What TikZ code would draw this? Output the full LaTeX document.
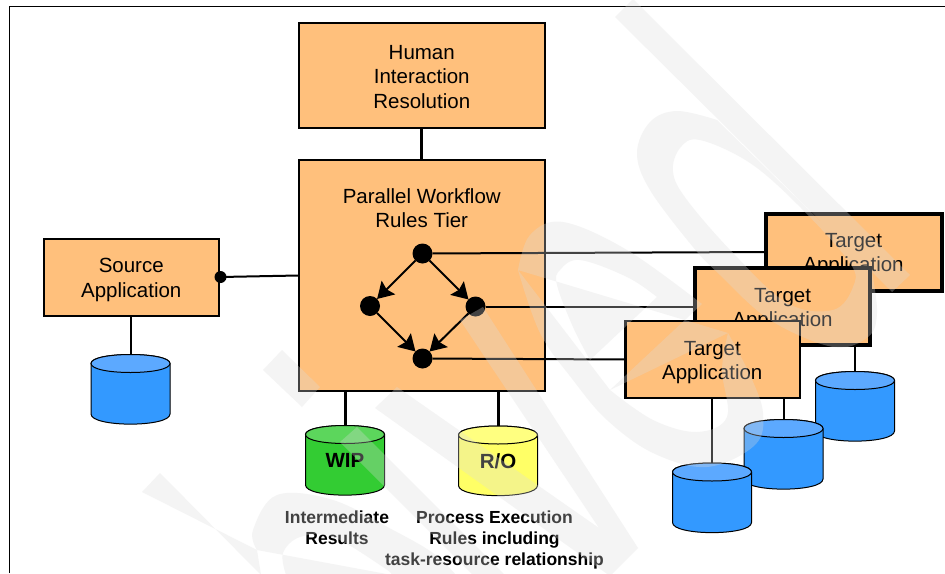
\documentclass[tikz,border=0pt]{standalone}
\usepackage{fontspec}
\setmainfont{Liberation Sans}
\usetikzlibrary{arrows.meta}
\definecolor{boxor}{HTML}{FFC07C}
\definecolor{dbblue}{HTML}{3399FF}
\definecolor{dbbluetop}{HTML}{5CA9FF}
\definecolor{dbgreen}{HTML}{33CC33}
\definecolor{dbgreentop}{HTML}{5CD65C}
\definecolor{dbyellow}{HTML}{FFFF66}
\definecolor{dbyellowtop}{HTML}{FFFF80}
\tikzset{
  x=1pt,y=-1pt,
  boxn/.style={draw=black,fill=boxor,line width=2pt,outer sep=0pt,inner sep=0pt},
  boxthick/.style={boxn,line width=4pt},
  txt/.style={inner sep=0pt,outer sep=0pt,align=center,font=\fontsize{20.5}{24.5}\selectfont},
  lab/.style={inner sep=0pt,outer sep=0pt,align=center,font=\fontsize{17.5}{21}\selectfont\bfseries},
  dbtxt/.style={inner sep=0pt,outer sep=0pt,minimum width=79pt,minimum height=70pt,font=\fontsize{20.5}{24}\selectfont\bfseries},
  dbline/.style={draw=black,line width=1pt},
  dotn/.style={circle,fill=black,inner sep=0pt,outer sep=0pt,minimum size=20pt},
  smalldot/.style={circle,fill=black,inner sep=0pt,outer sep=0pt,minimum size=12pt},
  wire/.style={line width=2pt,draw=black},
  heavy/.style={line width=3pt,draw=black},
  flow/.style={line width=2pt,draw=black,-{Stealth[length=16pt,width=19pt,inset=2.5pt]}},
  wm/.style={fill=black!14,fill opacity=.3,even odd rule},
}
% name, centre x, top y, body colour, top colour, text
\newcommand\dbcyl[6]{%
  \pgfmathsetmacro\cxa{#2-39.5}\pgfmathsetmacro\cxb{#2+39.5}%
  \pgfmathsetmacro\cya{#3+9}\pgfmathsetmacro\cyb{#3+59.5}%
  \pgfmathsetmacro\cyc{#3+73}\pgfmathsetmacro\cyd{#3-3}\pgfmathsetmacro\cye{#3+21}%
  \path[fill=#4,dbline] (\cxa,\cya) -- (\cxa,\cyb) .. controls (\cxa,\cyc) and (\cxb,\cyc) .. (\cxb,\cyb) -- (\cxb,\cya)
     .. controls (\cxb,\cyd) and (\cxa,\cyd) .. (\cxa,\cya) -- cycle;
  \path[fill=#5,dbline] (\cxa,\cya) .. controls (\cxa,\cyd) and (\cxb,\cyd) .. (\cxb,\cya)
     .. controls (\cxb,\cye) and (\cxa,\cye) .. (\cxa,\cya) -- cycle;
  \node[dbtxt] (#1) at (#2,{#3+35}) {\raisebox{-3pt}{#6}};%
}
\begin{document}
\begin{tikzpicture}
\useasboundingbox (0,0) rectangle (945,573);
\fill[white] (0,0) rectangle (945,573);
\draw[line width=1pt] (9.5,573) -- (9.5,6) -- (945,6);

\node[boxn,minimum width=246.5pt,minimum height=105pt] (human) at (421.75,75.5) {};
\node[txt] (humantxt) at (421.75,77) {Human\\Interaction\\Resolution};
\node[boxn,minimum width=246.5pt,minimum height=231pt] (par) at (421.75,275.5) {};
\node[txt] (partxt) at (421.75,208.2) {Parallel Workflow\\Rules Tier};
\node[boxn,minimum width=175.5pt,minimum height=77pt] (src) at (131.25,277.5) {};
\node[txt] (srctxt) at (131.25,279.8) {Source\\Application};
\node[smalldot] (srcdot) at (220.5,277) {};
\node[dotn] (dt) at (422.5,253.5) {};
\node[dotn] (dl) at (370,306) {};
\node[dotn] (dr) at (475.5,306.5) {};
\node[dotn] (db) at (422.5,358.5) {};

\draw[heavy] (human.south) -- (par.north);
\draw[wire] (srcdot.center) -- (par.west);
\draw[flow] (dt) -- (dl);
\draw[flow] (dt) -- (dr);
\draw[flow] (dl) -- (db);
\draw[flow] (dr) -- (db);

\dbcyl{dbs}{130.5}{354.5}{dbblue}{dbbluetop}{}
\draw[wire] (dbs.north|-src.south) -- (dbs.north);

\dbcyl{wip}{345}{425.5}{dbgreen}{dbgreentop}{WIP}
\dbcyl{ro}{498}{426}{dbyellow}{dbyellowtop}{R/O}
\draw[heavy] (wip.north|-par.south) -- (wip.north);
\draw[heavy] (ro.north|-par.south) -- (ro.north);
\node[lab] (wiplab) at (337,527.5) {Intermediate\\Results};
\node[lab] (rolab) at (494.5,540) {Process Execution\\Rules including\\task-resource relationship};

\dbcyl{db1}{855}{371.5}{dbblue}{dbbluetop}{}
\dbcyl{db2}{783.5}{419.5}{dbblue}{dbbluetop}{}
\dbcyl{db3}{712}{463}{dbblue}{dbbluetop}{}
\node[boxthick,minimum width=176pt,minimum height=77pt] (t1) at (853.5,252) {};
\node[txt] (t1txt) at (853.5,254.5) {Target\\Application};
\draw[wire] (dt) -- (t1.west);
\draw[wire] (db1.north|-t1.south) -- (db1.north);
\node[boxthick,minimum width=175pt,minimum height=77pt] (t2) at (782.5,306.5) {};
\node[txt] (t2txt) at (782.5,309.5) {Target\\Application};
\draw[wire] (dr) -- (t2.west);
\draw[wire] (db2.north) -- (db2.north|-t2.south);
\node[boxn,line width=2.5pt,minimum width=174.5pt,minimum height=77pt] (t3) at (712.75,359.5) {};
\node[txt] (t3txt) at (712.25,362.5) {Target\\Application};
\draw[wire] (db) -- (t3.west);
\draw[wire] (db3.north|-t3.south) -- (db3.north);

\begin{scope}
\clip (0,0) rectangle (945,573);
% h
\fill[wm] (142,492) -- (160,473) -- (261,575) -- (257,550)
  plot[smooth,tension=.6] coordinates {(257,550) (253,530) (277,495) (333,500) (393,530) (433,553) (456,575)}
  -- (392,575)
  plot[smooth,tension=.6] coordinates {(392,575) (383,567) (333,537) (300,537) (283,553) (286,575)}
  -- (224,575) -- cycle;
% i
\fill[wm] (263,370) -- (282,350) -- (320,387) -- (302,407) -- cycle;
\fill[wm] (340,442) -- (357,427) -- (506,576) -- (474,576) -- cycle;
% v
\fill[wm] (375,408) -- (397,387) -- (599,528) -- (460,320) -- (483,307) -- (638,548) -- (610,576) -- cycle;
% e
\fill[wm] plot[smooth,tension=.6] coordinates {(518,270) (530,235) (563,222) (627,250) (702,304)}
  -- (610,390)
  plot[smooth,tension=.6] coordinates {(610,390) (653,420) (697,432) (727,417) (722,370) (728,333)}
  plot[smooth,tension=.6] coordinates {(728,333) (750,375) (763,413) (755,445) (707,467) (653,453) (607,420) (573,380) (540,333) (518,270)}
  -- cycle
  plot[smooth,tension=.6] coordinates {(657,297) (627,277) (580,260) (560,270) (557,285) (573,327) (590,360)}
  -- (657,297) -- cycle;
% d
\fill[wm] (615,17) -- (633,-1) -- (910,275) -- (892,292) -- (872,272)
  plot[smooth,tension=.6] coordinates {(872,272) (877,313) (868,337) (833,347) (770,320) (720,275) (693,247) (650,190) (637,153) (650,122) (677,111) (717,120)}
  -- cycle
  plot[smooth cycle,tension=.6] coordinates {(700,140) (750,163) (800,207) (850,263) (853,287) (833,310) (787,303) (733,253) (687,200) (673,172) (680,148)};
\end{scope}
\end{tikzpicture}
\end{document}
